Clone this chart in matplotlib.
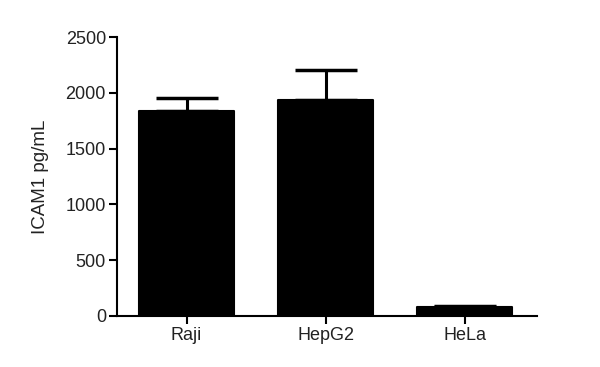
import matplotlib
matplotlib.use("Agg")
import matplotlib.pyplot as plt
import numpy as np

# 数据
cell_lines = ["Raji", "HepG2", "HeLa"]
icam1_mean = [1840, 1935, 85]
icam1_sem = [110, 270, 5]

plt.rcParams["font.family"] = ["Liberation Sans", "DejaVu Sans"]

fig = plt.figure(figsize=(6, 3.67), dpi=100)
ax = fig.add_axes([0.195, 0.139, 0.70, 0.76])

x = np.arange(len(cell_lines))
ax.bar(x, icam1_mean, width=0.68, color="black", edgecolor="black",
       linewidth=1.5, joinstyle="round", zorder=3)
# 只画向上的误差线
ax.errorbar(x, icam1_mean, yerr=[np.zeros(len(x)), icam1_sem], fmt="none",
            ecolor="black", elinewidth=2.2, capsize=22, capthick=2.5, zorder=2)

ax.set_xlim(-0.5, 2.52)
ax.set_ylim(0, 2500)
ax.set_yticks([0, 500, 1000, 1500, 2000, 2500])
ax.set_xticks(x)
ax.set_xticklabels(cell_lines)
ax.set_ylabel("ICAM1 pg/mL", fontsize=13.5, labelpad=12, color="#222222")

for s in ["top", "right"]:
    ax.spines[s].set_visible(False)
for s in ["left", "bottom"]:
    ax.spines[s].set_linewidth(1.5)
ax.tick_params(axis="both", direction="out", length=6, width=1.5,
               labelsize=13, colors="black", labelcolor="#222222", pad=2)

fig.savefig("out.png", dpi=100, facecolor="white")
